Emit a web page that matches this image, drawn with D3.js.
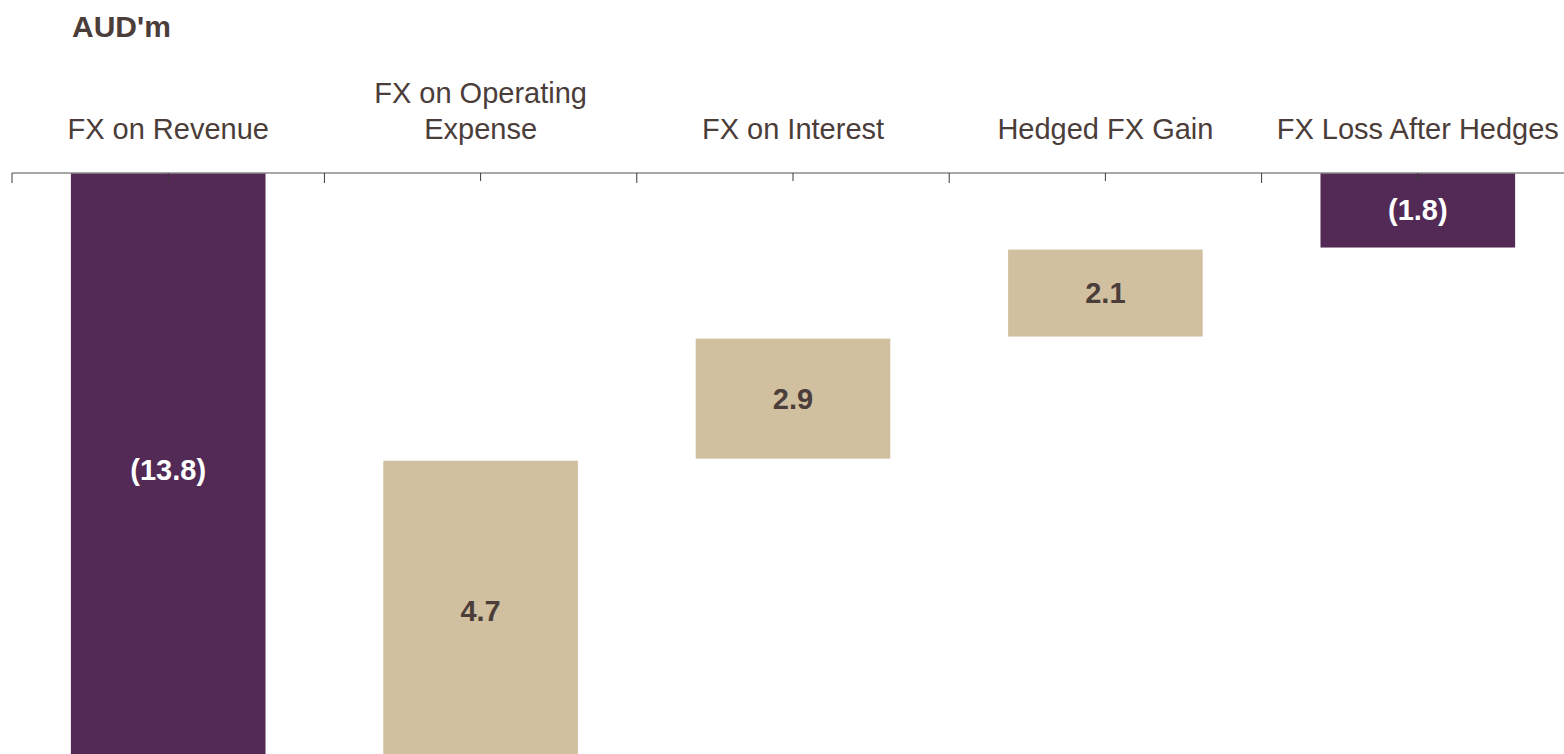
<!DOCTYPE html>
<html>
<head>
<meta charset="utf-8">
<script src="https://cdn.jsdelivr.net/npm/d3@7"></script>
<style>
  html, body { margin: 0; padding: 0; background: #fff; overflow: hidden; }
</style>
</head>
<body>
<script>
// waterfall pieces (AUD'm)
var categories = ['FX on Revenue', 'FX on Operating Expense', 'FX on Interest', 'Hedged FX Gain', 'FX Loss After Hedges'];
var labelLines = [['FX on Revenue'], ['FX on Operating', 'Expense'], ['FX on Interest'], ['Hedged FX Gain'], ['FX Loss After Hedges']];
var values = [-13.8, 4.7, 2.9, 2.1, -1.8];
var barStart = [0, -14.2, -6.9, -3.95, 0];
var barEnd = [-14.35, -6.95, -4.0, -1.85, -1.8];
var barKind = ['total', 'step', 'step', 'step', 'total'];

var width = 1564,
    height = 754;
var axis_y = 173;
var px_per_unit = 41.4;
var font = 'Liberation Sans, Arial, sans-serif';
var text_color = '#4b3d39';
var purple = '#522a55';
var tan = '#d1c0a0';

var svg = d3.select('body')
  .append('svg')
  .attr('width', width)
  .attr('height', height);

var x = d3.scaleBand()
  .domain(categories)
  .range([12, 12 + 5 * 312.4])
  .paddingInner(0.377)
  .paddingOuter(0.377 / 2);

var y = d3.scaleLinear()
  .domain([0, -15])
  .range([axis_y, axis_y + 15 * px_per_unit]);

// unit title
svg.append('text')
  .attr('x', 72)
  .attr('y', 37)
  .attr('font-family', font)
  .attr('font-size', '30px')
  .attr('font-weight', 'bold')
  .attr('fill', text_color)
  .text("AUD'm");

// bars
svg.selectAll('rect.bar')
  .data(categories)
  .enter()
  .append('rect')
  .attr('class', 'bar')
  .attr('x', function(d) { return x(d); })
  .attr('width', x.bandwidth())
  .attr('y', function(d, i) { return y(Math.max(barStart[i], barEnd[i])); })
  .attr('height', function(d, i) { return Math.abs(y(barStart[i]) - y(barEnd[i])); })
  .attr('fill', function(d, i) { return barKind[i] == 'total' ? purple : tan; });

// value labels, centred in each bar
svg.selectAll('text.value')
  .data(categories)
  .enter()
  .append('text')
  .attr('class', 'value')
  .attr('x', function(d) { return x(d) + x.bandwidth() / 2; })
  .attr('y', function(d, i) { return y((barStart[i] + barEnd[i]) / 2) + 10; })
  .attr('text-anchor', 'middle')
  .attr('font-family', font)
  .attr('font-size', '29px')
  .attr('font-weight', 'bold')
  .attr('fill', function(d, i) { return barKind[i] == 'total' ? '#ffffff' : text_color; })
  .text(function(d, i) {
    var v = Math.abs(values[i]).toFixed(1);
    return values[i] < 0 ? '(' + v + ')' : v;
  });

// axis line with ticks at band centres and band edges
var step = x.step();
svg.append('line')
  .attr('x1', 12)
  .attr('x2', width)
  .attr('y1', axis_y)
  .attr('y2', axis_y)
  .attr('stroke', '#8a8a8a')
  .attr('stroke-width', 1.5);

var axis = d3.axisBottom(x).tickSize(8).tickFormat('');
var axis_g = svg.append('g')
  .attr('transform', 'translate(0,' + axis_y + ')')
  .call(axis);
axis_g.select('.domain').remove();
axis_g.selectAll('.tick line').attr('stroke', '#3a3a3a');

var edges = d3.range(categories.length + 1).map(function(k) { return 12 + k * step; });
svg.selectAll('line.edge')
  .data(edges)
  .enter()
  .append('line')
  .attr('class', 'edge')
  .attr('x1', function(d) { return d; })
  .attr('x2', function(d) { return d; })
  .attr('y1', axis_y)
  .attr('y2', axis_y + 10)
  .attr('stroke', '#3a3a3a')
  .attr('stroke-width', 1);

// category labels above the axis
var labels = svg.selectAll('text.category')
  .data(categories)
  .enter()
  .append('text')
  .attr('class', 'category')
  .attr('text-anchor', 'middle')
  .attr('font-family', font)
  .attr('font-size', '29px')
  .attr('fill', text_color);

labels.each(function(d, i) {
  var lines = labelLines[i];
  var cx = x(d) + x.bandwidth() / 2;
  var t = d3.select(this);
  lines.forEach(function(line, j) {
    t.append('tspan')
      .attr('x', cx)
      .attr('y', 139 - (lines.length - 1 - j) * 36)
      .text(line);
  });
});
</script>
</body>
</html>
